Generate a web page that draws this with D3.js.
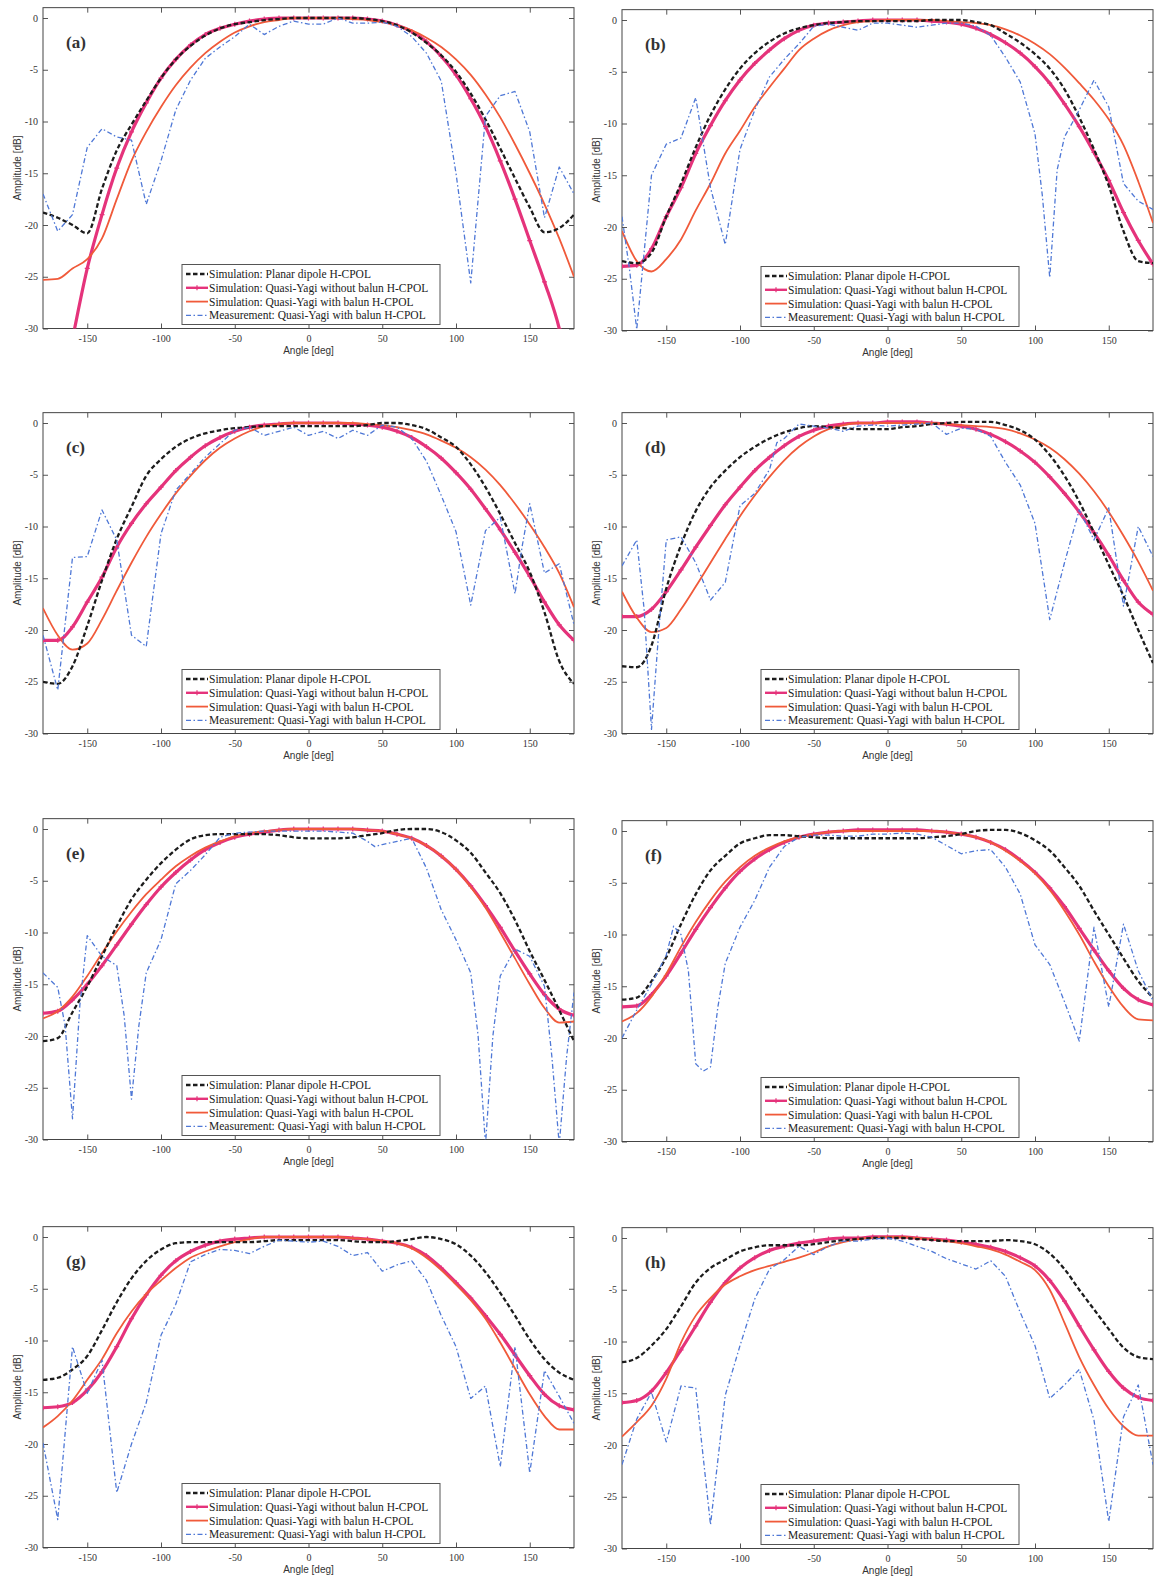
<!DOCTYPE html>
<html>
<head>
<meta charset="utf-8">
<script src="https://cdn.jsdelivr.net/npm/d3@7"></script>
<style>
body { margin: 0; background: #fff; }
svg { display: block; }
.tick text { font: 10px "Liberation Serif", "Times New Roman", serif; fill: #333; }
.tick line { stroke: #555; }
.axis-title { font: 10px "Liberation Sans", Arial, sans-serif; fill: #333; }
.panel-tag { font: bold 17px "Liberation Serif", "Times New Roman", serif; fill: #333; }
.legend text { font: 11.5px "Liberation Serif", "Times New Roman", serif; fill: #222; }
</style>
</head>
<body>
<svg id="chart" width="1158" height="1582"></svg>
<script>
// angles of the simulated curves, one value every 10 deg
var ANGLES = [-180,-170,-160,-150,-140,-130,-120,-110,-100,-90,
              -80,-70,-60,-50,-40,-30,-20,-10,0,10,
              20,30,40,50,60,70,80,90,100,110,
              120,130,140,150,160,170,180];
var X_TICKS = [-150,-100,-50,0,50,100,150];
var Y_TICKS = [0,-5,-10,-15,-20,-25,-30];
var TAGS = ["(a)","(b)","(c)","(d)","(e)","(f)","(g)","(h)"];
var LEGEND_LABELS = [
  "Simulation: Planar dipole H-CPOL",
  "Simulation: Quasi-Yagi without balun H-CPOL",
  "Simulation: Quasi-Yagi with balun H-CPOL",
  "Measurement: Quasi-Yagi with balun H-CPOL"
];

// ---- (a)
var dipole_a = [-18.8,-19.3,-20.0,-20.8,-16.5,-12.8,-10.3,-8.0,-5.8,-4.0,
                -2.7,-1.7,-1.0,-0.6,-0.4,-0.2,-0.1,0,0,0,
                0,0,-0.1,-0.3,-0.7,-1.4,-2.4,-3.6,-5.2,-7.3,
                -9.8,-12.6,-15.5,-18.3,-20.7,-20.3,-19.0];
var yagi_a = [-45,-38,-31,-24.2,-19,-14.5,-11,-8.2,-5.8,-4.0,
              -2.6,-1.6,-1.0,-0.6,-0.3,-0.1,0,0,0,0,
              0,0,-0.1,-0.3,-0.7,-1.3,-2.3,-3.7,-5.5,-7.8,
              -10.5,-13.8,-17.5,-21.5,-25.5,-30,-37];
var balun_a = [-25.3,-25.2,-24.2,-23.3,-21.3,-17.5,-13.8,-11.0,-8.6,-6.5,
               -4.8,-3.4,-2.3,-1.4,-0.8,-0.4,-0.2,0,0,0,
               0,-0.1,-0.2,-0.4,-0.7,-1.2,-1.9,-2.8,-4.0,-5.5,
               -7.4,-9.6,-12.2,-15.0,-18.0,-21.3,-25.0];
var meas_a = [[-180,-17],[-170,-20.6],[-160,-19],[-150,-12.5],[-140,-10.7],[-130,-11.5],[-120,-11.8],
              [-110,-18],[-100,-13.8],[-90,-8.9],[-80,-6],[-70,-3.9],[-60,-2.8],[-50,-1.8],[-40,-0.6],
              [-30,-1.6],[-20,-0.8],[-10,-0.3],[0,-0.6],[10,-0.6],[20,0],[30,-0.5],[40,-0.5],[50,-0.4],
              [60,-0.8],[70,-1.8],[80,-3.4],[90,-6.1],[100,-15],[110,-25.6],[120,-9.5],[130,-7.5],
              [140,-7.1],[150,-11],[160,-19.3],[170,-14.4],[180,-17]];

// ---- (b)
var dipole_b = [-23.3,-23.5,-22.5,-19,-15.8,-12.3,-9.2,-6.7,-4.7,-3.2,
                -2.1,-1.3,-0.8,-0.5,-0.3,-0.2,-0.1,-0.1,-0.1,-0.1,
                -0.1,0,0,0,-0.2,-0.5,-1.3,-2.2,-3.3,-4.7,
                -6.7,-9.4,-12.5,-16,-20.4,-23.3,-23.5];
var yagi_b = [-23.8,-23.7,-22.1,-19,-16.2,-12.9,-10.2,-7.8,-5.8,-4.2,
              -2.9,-1.8,-1.0,-0.5,-0.3,-0.2,-0.1,0,0,0,
              0,-0.1,-0.2,-0.4,-0.8,-1.4,-2.2,-3.2,-4.5,-6.1,
              -8.1,-10.3,-12.8,-15.5,-18.6,-21.3,-23.6];
var balun_b = [-20.4,-23.3,-24.3,-23.1,-21.2,-18.4,-15.8,-12.9,-10.7,-8.4,
               -6.5,-4.7,-2.9,-1.8,-1.0,-0.5,-0.2,-0.1,0,0,
               0,0,-0.1,-0.2,-0.3,-0.5,-0.9,-1.5,-2.3,-3.3,
               -4.6,-6.1,-7.7,-9.6,-12.1,-15.6,-19.6];
var meas_b = [[-180,-19],[-175,-24],[-170,-29.9],[-160,-15],[-150,-12],[-140,-11.4],[-130,-7.5],
              [-120,-16.2],[-110,-21.7],[-100,-12.5],[-90,-8.7],[-80,-5.5],[-70,-3.8],[-60,-2.3],
              [-50,-0.6],[-40,-0.4],[-30,-0.7],[-20,-1.0],[-10,-0.3],[0,-0.3],[10,-0.5],[20,-0.7],
              [30,-0.5],[40,-0.3],[50,-0.3],[60,-0.6],[70,-1.5],[80,-3.6],[90,-6],[100,-11],
              [105,-17],[110,-24.9],[115,-14.5],[120,-11.3],[130,-8.7],[140,-5.8],[150,-8.4],
              [160,-15.8],[170,-17.5],[180,-18.3]];

// ---- (c)
var dipole_c = [-25,-25.2,-23.5,-19.6,-15.2,-11.2,-8.1,-5.1,-3.5,-2.3,
                -1.5,-1.0,-0.7,-0.5,-0.4,-0.3,-0.3,-0.3,-0.3,-0.3,
                -0.3,-0.3,-0.2,0,0,-0.2,-0.6,-1.4,-2.3,-4,
                -6.2,-8.8,-11.6,-14.4,-18.3,-23,-25.2];
var yagi_c = [-21,-21,-19.7,-17.3,-14.9,-12,-9.7,-7.8,-6.2,-4.6,
              -3.3,-2.2,-1.4,-0.8,-0.4,-0.2,-0.1,0,0,0,
              0,-0.1,-0.2,-0.4,-0.8,-1.4,-2.3,-3.4,-4.8,-6.4,
              -8.3,-10.3,-12.5,-14.8,-17.3,-19.5,-21];
var balun_c = [-17.9,-20.5,-21.9,-21.3,-19,-16.2,-13.5,-11,-8.8,-6.8,
               -5.1,-3.6,-2.4,-1.5,-0.8,-0.3,-0.1,0,0,0,
               0,0,-0.1,-0.2,-0.4,-0.7,-1.1,-1.7,-2.4,-3.3,
               -4.5,-6,-7.8,-9.8,-12,-14.5,-17.8];
var meas_c = [[-180,-20.5],[-170,-25.8],[-160,-13],[-150,-12.9],[-140,-8.4],[-130,-11.3],[-120,-20.5],
              [-110,-21.6],[-100,-10.7],[-90,-6.5],[-80,-4.9],[-70,-3.3],[-60,-2],[-50,-0.7],[-40,-0.4],
              [-30,-1.2],[-20,-0.8],[-10,-0.4],[0,-1.2],[10,-0.8],[20,-1.5],[30,-0.7],[40,-1.2],[50,-0.2],
              [60,-0.4],[70,-1.5],[80,-3.7],[90,-7],[100,-10.5],[110,-17.6],[120,-10.4],[130,-9.1],
              [140,-16.5],[145,-11.8],[150,-7.8],[160,-14.5],[170,-13.6],[180,-19.5]];

// ---- (d)
var dipole_d = [-23.5,-23.6,-21.5,-16,-11.8,-8.5,-6.2,-4.6,-3.3,-2.3,
                -1.5,-0.9,-0.5,-0.3,-0.4,-0.5,-0.6,-0.6,-0.6,-0.4,
                -0.3,-0.1,0,0.1,0.1,0.1,-0.2,-0.7,-1.6,-3.1,
                -5.1,-7.6,-10.6,-13.7,-16.7,-20,-23.2];
var yagi_d = [-18.7,-18.7,-18,-16.3,-14.2,-12,-9.9,-7.9,-6.2,-4.6,
              -3.3,-2.2,-1.3,-0.7,-0.3,-0.1,0,0,0.1,0.1,
              0.1,0,-0.1,-0.3,-0.6,-1.1,-1.8,-2.7,-3.8,-5.2,
              -6.8,-8.6,-10.6,-12.8,-15.2,-17.3,-18.5];
var balun_d = [-16.3,-18.8,-20.2,-19.8,-18,-15.8,-13.5,-11.2,-9,-7,
               -5.2,-3.6,-2.3,-1.3,-0.6,-0.2,0,0,0,0,
               0,0,-0.1,-0.2,-0.3,-0.4,-0.6,-1,-1.6,-2.4,
               -3.5,-4.9,-6.6,-8.6,-10.9,-13.4,-16.2];
var meas_d = [[-180,-13.8],[-170,-11.3],[-165,-18],[-160,-29.6],[-155,-20],[-150,-11.3],[-140,-11],
              [-130,-13.5],[-120,-17.1],[-110,-15.4],[-100,-8],[-90,-6.8],[-80,-4.5],[-75,-1.9],
              [-70,-1.5],[-60,-0.1],[-50,-0.3],[-40,-0.5],[-30,-0.8],[-20,-0.3],[-10,-0.2],[0,-0.3],
              [10,-0.2],[20,-0.1],[30,0],[40,-1.1],[50,-0.5],[60,-0.6],[70,-1.3],[80,-3.8],[90,-6],
              [100,-9.7],[110,-19],[120,-13.5],[130,-8.4],[140,-11.3],[150,-8.2],[160,-17.7],
              [170,-10],[180,-12.9]];

// ---- (e)
var dipole_e = [-20.5,-20.2,-17.7,-15.2,-12.3,-9.4,-6.8,-4.9,-3.3,-2,
                -1,-0.6,-0.5,-0.5,-0.5,-0.5,-0.6,-0.8,-0.9,-0.9,
                -0.9,-0.8,-0.6,-0.4,-0.1,0,0,-0.3,-1.1,-2.3,
                -4.2,-6.2,-8.8,-11.8,-14.6,-17.5,-20.5];
var yagi_e = [-17.8,-17.6,-16.5,-15,-13.2,-11.2,-9.2,-7.3,-5.6,-4.2,
              -3,-2,-1.3,-0.8,-0.5,-0.3,-0.1,0,0,0,
              0,0,-0.1,-0.2,-0.5,-0.9,-1.6,-2.6,-3.9,-5.5,
              -7.4,-9.5,-11.8,-14,-16,-17.4,-18];
var balun_e = [-18.3,-17.6,-16.2,-14.2,-12,-9.9,-8,-6.3,-4.9,-3.6,
               -2.6,-1.8,-1.2,-0.7,-0.4,-0.2,-0.1,0,0,0,
               0,0,-0.1,-0.2,-0.5,-0.9,-1.6,-2.6,-3.9,-5.6,
               -7.6,-10,-12.5,-15,-17.3,-18.7,-18.6];
var meas_e = [[-180,-13.9],[-170,-15.3],[-165,-19],[-160,-28],[-155,-17],[-150,-10.3],[-140,-12.3],
              [-130,-13.2],[-125,-18],[-120,-26.1],[-115,-19],[-110,-13.9],[-100,-10.7],[-90,-5.3],
              [-80,-4],[-70,-2.5],[-60,-0.8],[-50,-0.4],[-40,-0.3],[-30,-0.2],[-20,-0.2],[-10,-0.2],
              [0,-0.2],[10,-0.2],[20,-0.3],[30,-0.4],[40,-1.2],[45,-1.7],[50,-1.5],[60,-1.2],[70,-0.9],
              [80,-3.8],[90,-7.8],[100,-10.7],[110,-13.9],[115,-20],[120,-30.5],[125,-20],[130,-14.2],
              [140,-11.6],[150,-12.3],[160,-15.2],[165,-22],[170,-30.5],[175,-22],[180,-15.8]];

// ---- (f)
var dipole_f = [-16.3,-16.1,-14.5,-12.2,-9,-6.1,-3.8,-2.4,-1.2,-0.7,
                -0.4,-0.4,-0.5,-0.6,-0.7,-0.7,-0.7,-0.7,-0.7,-0.7,
                -0.7,-0.6,-0.5,-0.3,0,0.1,0.1,-0.2,-0.9,-1.9,
                -3.5,-5.3,-7.7,-10,-12.3,-14.5,-16.1];
var yagi_f = [-17,-16.9,-15.8,-14,-11.8,-9.5,-7.4,-5.5,-3.9,-2.7,
              -1.8,-1.1,-0.6,-0.3,-0.1,0,0.1,0.1,0.1,0.1,
              0.1,0,-0.1,-0.3,-0.6,-1.1,-1.8,-2.8,-4,-5.5,
              -7.3,-9.4,-11.5,-13.5,-15.2,-16.3,-16.8];
var balun_f = [-18.4,-17.6,-16,-13.8,-11.2,-8.8,-6.7,-4.9,-3.5,-2.4,
               -1.6,-1,-0.6,-0.3,-0.1,0,0,0,0,0,
               0,0,-0.1,-0.3,-0.6,-1.1,-1.9,-2.9,-4.1,-5.7,
               -7.7,-10,-12.6,-15,-17,-18.2,-18.3];
var meas_f = [[-180,-20],[-170,-17.3],[-160,-14.8],[-150,-12],[-145,-9.2],[-140,-10],[-135,-13.5],
              [-130,-22.5],[-125,-23.2],[-120,-22.8],[-115,-17],[-110,-12.8],[-100,-9.3],[-90,-6.7],
              [-80,-3.5],[-70,-1.5],[-60,-0.6],[-50,-0.4],[-40,-0.4],[-30,-0.5],[-20,-0.5],[-10,-0.3],
              [0,-0.3],[10,-0.2],[20,-0.3],[30,-0.6],[40,-1.4],[50,-2.2],[60,-1.9],[70,-1.8],[80,-3.5],
              [90,-6.1],[100,-11],[110,-12.9],[120,-16.5],[130,-20.3],[140,-9.3],[150,-17],[160,-9],
              [170,-13.5],[180,-16.4]];

// ---- (g)
var dipole_g = [-13.8,-13.6,-12.8,-11.5,-9,-6.3,-4,-2.3,-1.2,-0.6,
                -0.5,-0.5,-0.5,-0.5,-0.5,-0.4,-0.3,-0.3,-0.3,-0.3,
                -0.3,-0.4,-0.5,-0.5,-0.4,-0.2,0,-0.2,-0.7,-1.8,
                -3.4,-5.4,-7.6,-9.9,-11.8,-13.1,-13.8];
var yagi_g = [-16.5,-16.4,-16,-14.8,-13,-10.6,-7.9,-5.6,-3.7,-2.3,
              -1.4,-0.8,-0.4,-0.2,-0.1,0,0,0,0,0,
              0,-0.1,-0.2,-0.4,-0.6,-1,-1.8,-3,-4.4,-5.9,
              -7.6,-9.4,-11.4,-13.4,-15.2,-16.3,-16.7];
var balun_g = [-18.4,-17.3,-15.8,-13.8,-11.8,-9.3,-7.2,-5.5,-4.2,-3,
               -2,-1.4,-0.9,-0.5,-0.2,0,0,0,0,0,
               0,-0.1,-0.2,-0.4,-0.6,-1.1,-2,-3.2,-4.6,-6.1,
               -7.9,-10.2,-12.7,-15.2,-17.3,-18.6,-18.6];
var meas_g = [[-180,-19.9],[-170,-27.3],[-160,-10.6],[-150,-15.1],[-140,-11.9],[-130,-24.7],[-120,-20],
              [-110,-16],[-100,-9.5],[-90,-6.5],[-80,-2.4],[-70,-1.7],[-60,-1.2],[-50,-1.3],[-40,-1.6],
              [-30,-0.9],[-20,-0.3],[-10,-0.4],[0,-0.5],[10,-0.4],[20,-0.9],[30,-1.8],[40,-1.5],
              [50,-3.3],[60,-2.7],[70,-2.3],[80,-4.2],[90,-7.6],[100,-10.6],[110,-15.6],[120,-14.4],
              [130,-22.2],[140,-10.6],[150,-22.8],[160,-12.9],[170,-15.4],[180,-18]];

// ---- (h)
var dipole_h = [-12,-11.6,-10.4,-8.8,-6.6,-4.3,-2.9,-2.1,-1.3,-0.9,
                -0.7,-0.7,-0.7,-0.6,-0.4,-0.2,-0.1,0,0,0,
                -0.1,-0.2,-0.3,-0.3,-0.3,-0.3,-0.2,-0.3,-0.6,-1.5,
                -3,-5,-6.9,-8.8,-10.6,-11.5,-11.7];
var yagi_h = [-15.9,-15.7,-14.8,-13,-10.8,-8.5,-6.2,-4.3,-2.9,-1.9,
              -1.2,-0.8,-0.5,-0.3,-0.1,0,0,0.1,0.1,0.1,
              0,-0.1,-0.2,-0.4,-0.6,-0.9,-1.3,-1.9,-2.7,-4.1,
              -6.1,-8.5,-10.8,-12.9,-14.5,-15.4,-15.7];
var balun_h = [-19.2,-17.8,-16.2,-13.6,-10.1,-7.5,-5.8,-4.5,-3.7,-3.1,
               -2.7,-2.3,-1.9,-1.4,-0.8,-0.4,-0.1,0,0.1,0.1,
               0,-0.1,-0.3,-0.5,-0.8,-1.1,-1.6,-2.3,-3.1,-5,
               -8.2,-11.5,-14.2,-16.5,-18.2,-19.1,-19.1];
var meas_h = [[-180,-21.9],[-170,-17.5],[-160,-14.9],[-150,-19.7],[-140,-14.3],[-130,-14.5],[-120,-27.7],
              [-110,-15.2],[-100,-10.4],[-90,-5.9],[-80,-3],[-70,-2.1],[-60,-0.8],[-50,-1.6],[-40,-0.8],
              [-30,-0.3],[-20,-0.3],[-10,-0.1],[0,0],[10,-0.3],[20,-0.8],[30,-1.3],[40,-2],[50,-2.5],
              [60,-3],[70,-2.2],[80,-3.7],[90,-7.2],[100,-10.4],[110,-15.5],[120,-14.2],[130,-12.7],
              [140,-17.6],[150,-27.4],[160,-17.3],[170,-14.2],[180,-21.9]];

var DIPOLE = [dipole_a, dipole_b, dipole_c, dipole_d, dipole_e, dipole_f, dipole_g, dipole_h];
var YAGI   = [yagi_a, yagi_b, yagi_c, yagi_d, yagi_e, yagi_f, yagi_g, yagi_h];
var BALUN  = [balun_a, balun_b, balun_c, balun_d, balun_e, balun_f, balun_g, balun_h];
var MEAS   = [meas_a, meas_b, meas_c, meas_d, meas_e, meas_f, meas_g, meas_h];

// layout: left edge of each column, y of the 0 dB line of each panel
var COL_X  = [43, 622],
    PLOT_W = 531,
    ZERO_Y = [18, 20, 423, 423, 829, 831, 1237, 1238],
    DB_PX  = 10.35;

var styles = [
  {color: "#1c1c1c", width: 2.3, dash: "4.5,2.5"},
  {color: "#e5337b", width: 3.2, dash: null},
  {color: "#f05a3a", width: 1.8, dash: null},
  {color: "#4f78d6", width: 1.3, dash: "5,2.5,1.5,2.5"}
];

var svg = d3.select("#chart");

TAGS.forEach(function(tag, i) {
  var x0 = COL_X[i % 2], zy = ZERO_Y[i];
  var x = d3.scaleLinear().domain([-180, 180]).range([x0, x0 + PLOT_W]);
  var y = d3.scaleLinear().domain([-30, 1]).range([zy + 30 * DB_PX, zy - DB_PX]);
  var g = svg.append("g");

  g.append("clipPath").attr("id", "clip" + i)
    .append("rect")
      .attr("x", x(-180)).attr("y", y(1))
      .attr("width", x(180) - x(-180)).attr("height", y(-30) - y(1));

  // axes, MATLAB style: ticks inside, on all four sides
  var fmt = function(d) { return String(d); };
  g.append("g").attr("transform", "translate(0," + y(-30) + ")")
    .call(d3.axisBottom(x).tickValues(X_TICKS).tickSize(-5).tickSizeOuter(0).tickPadding(6).tickFormat(fmt));
  g.append("g").attr("transform", "translate(0," + y(1) + ")")
    .call(d3.axisTop(x).tickValues(X_TICKS).tickSize(-5).tickSizeOuter(0).tickFormat(""));
  g.append("g").attr("transform", "translate(" + x(-180) + ",0)")
    .call(d3.axisLeft(y).tickValues(Y_TICKS).tickSize(-5).tickSizeOuter(0).tickPadding(5).tickFormat(fmt));
  g.append("g").attr("transform", "translate(" + x(180) + ",0)")
    .call(d3.axisRight(y).tickValues(Y_TICKS).tickSize(-5).tickSizeOuter(0).tickFormat(""));
  g.selectAll(".domain").remove();
  g.selectAll(".tick text").attr("font-family", null).attr("font-size", null);

  g.append("rect")
    .attr("x", x(-180)).attr("y", y(1))
    .attr("width", x(180) - x(-180)).attr("height", y(-30) - y(1))
    .attr("fill", "none").attr("stroke", "#444").attr("stroke-width", 1);

  g.append("text").attr("class", "axis-title")
    .attr("x", (x(-180) + x(180)) / 2).attr("y", y(-30) + 25)
    .attr("text-anchor", "middle").text("Angle [deg]");
  g.append("text").attr("class", "axis-title")
    .attr("transform", "translate(" + (x0 - 22) + "," + ((y(1) + y(-30)) / 2) + ") rotate(-90)")
    .attr("text-anchor", "middle").text("Amplitude [dB]");

  // curves
  var plot = g.append("g").attr("clip-path", "url(#clip" + i + ")");
  var smooth = d3.line().x(function(d) { return x(d[0]); }).y(function(d) { return y(d[1]); })
    .curve(d3.curveMonotoneX);
  var straight = d3.line().x(function(d) { return x(d[0]); }).y(function(d) { return y(d[1]); });

  var zipped = function(vals) { return ANGLES.map(function(a, k) { return [a, vals[k]]; }); };
  var series = [zipped(DIPOLE[i]), zipped(YAGI[i]), zipped(BALUN[i]), MEAS[i]];
  var order = [1, 2, 0, 3];
  order.forEach(function(s) {
    var st = styles[s];
    plot.append("path")
      .datum(series[s])
      .attr("fill", "none")
      .attr("stroke", st.color)
      .attr("stroke-width", st.width)
      .attr("stroke-dasharray", st.dash)
      .attr("stroke-linejoin", "round")
      .attr("d", s === 3 ? straight : smooth);
    if (s === 1) {
      plot.selectAll(null).data(series[s]).enter().append("path")
        .attr("transform", function(d) { return "translate(" + x(d[0]) + "," + y(d[1]) + ")"; })
        .attr("d", "M-2.5,0H2.5M0,-2.5V2.5")
        .attr("stroke", st.color).attr("stroke-width", 1.2);
    }
  });

  // panel tag
  g.append("text").attr("class", "panel-tag")
    .attr("x", x0 + 23).attr("y", zy + 30).text(tag);

  // legend
  var lw = 258, lh = 60;
  var lg = g.append("g").attr("class", "legend")
    .attr("transform", "translate(" + (x0 + 139) + "," + (y(-30) - 4 - lh) + ")");
  lg.append("rect").attr("width", lw).attr("height", lh)
    .attr("fill", "#fff").attr("stroke", "#555").attr("stroke-width", 1);
  LEGEND_LABELS.forEach(function(label, k) {
    var ry = 9.5 + k * 13.8;
    var st = styles[k];
    lg.append("line").attr("x1", 4).attr("x2", 26).attr("y1", ry).attr("y2", ry)
      .attr("stroke", st.color).attr("stroke-width", Math.min(st.width, 2.4))
      .attr("stroke-dasharray", st.dash);
    if (k === 1) {
      lg.append("path").attr("d", "M12.5," + ry + "h5M15," + (ry - 2.5) + "v5")
        .attr("stroke", st.color).attr("stroke-width", 1.2);
    }
    lg.append("text").attr("x", 27).attr("y", ry).attr("dy", "0.35em").text(label);
  });
});
</script>
</body>
</html>
